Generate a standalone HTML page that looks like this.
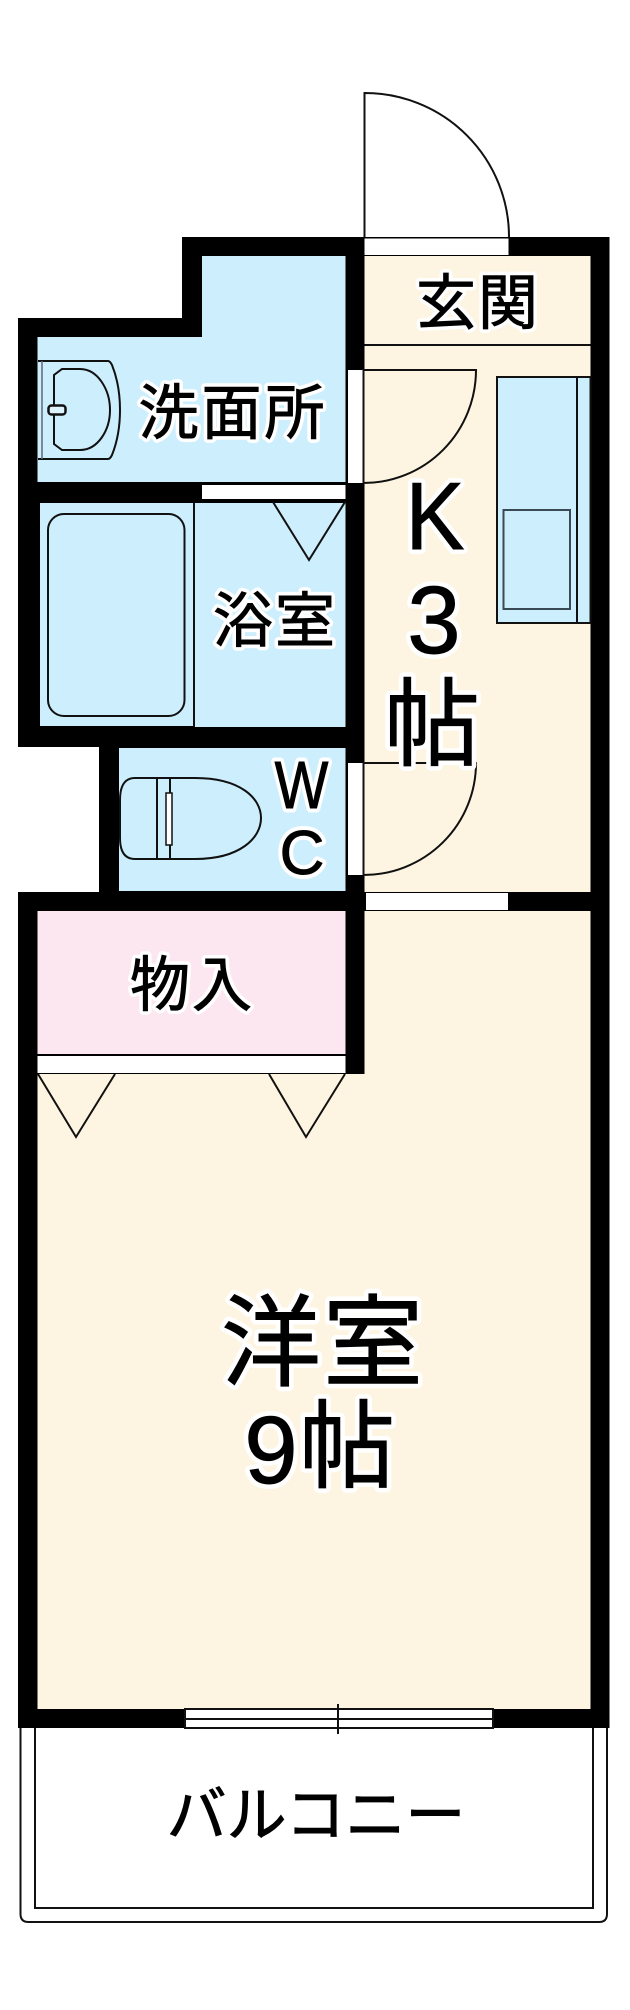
<!DOCTYPE html>
<html><head><meta charset="utf-8"><style>
html,body{margin:0;padding:0;background:#fff;width:630px;height:2010px;overflow:hidden}
svg{display:block}
text{font-family:"Liberation Sans","Noto Sans CJK JP",sans-serif;text-anchor:middle}
.h text{fill:#fff;stroke:#fff;stroke-linejoin:round}
.t text{fill:#000;stroke:#000;stroke-width:.9px}
.l{fill:none;stroke:#111;stroke-width:2}
</style></head><body>
<svg width="630" height="2010" viewBox="0 0 630 2010" xmlns="http://www.w3.org/2000/svg">
<rect width="630" height="2010" fill="#fff"/>
<!-- walls -->
<path d="M182 237H609.500V1728H18V892H99V747H18V318H182Z" fill="#000"/>
<!-- rooms -->
<path d="M202 256H345.500V482H37.500V337H202Z" fill="#cdeefc"/>
<rect x="364.500" y="256" width="226" height="636" fill="#fdf5e2"/>
<rect x="40" y="503" width="153" height="223" fill="#cdeefc"/>
<rect x="195" y="503" width="150.500" height="224" fill="#cdeefc"/>
<rect x="119" y="748" width="226.500" height="143" fill="#cdeefc"/>
<rect x="37.500" y="911" width="308" height="143" fill="#fce6ef"/>
<path d="M364.500 911H590.500V1709H37.500V1074H364.500Z" fill="#fdf5e2"/>
<!-- openings -->
<rect x="364.500" y="238.500" width="144" height="16.500" fill="#fff"/>
<rect x="348" y="370" width="15" height="113" fill="#fff"/>
<rect x="202" y="485" width="143.500" height="14" fill="#fff"/>
<rect x="348" y="763" width="15" height="112" fill="#fff"/>
<rect x="366" y="893" width="142" height="17" fill="#fff"/>
<rect x="37.500" y="1056" width="308" height="17" fill="#fff"/>
<!-- balcony -->
<path class="l" d="M20.500 1728V1914Q20.500 1922 28.500 1922H599Q607 1922 607 1914V1728" stroke="#333"/>
<path class="l" d="M35 1728V1908H593V1728" stroke="#333"/>
<!-- entry door -->
<path class="l" d="M364.500 237V93A144.500 144 0 0 1 509 237"/>
<line class="l" x1="364.500" y1="345" x2="590.500" y2="345"/>
<!-- inner doors -->
<path class="l" d="M363.500 483V370H476A112.500 113 0 0 1 363.500 483Z"/>
<path class="l" d="M363.500 875V763H476A112.500 112 0 0 1 363.500 875Z"/>
<!-- kitchen counter -->
<rect x="497" y="377" width="93.500" height="246" fill="#cdeefc" stroke="#111" stroke-width="2"/>
<line class="l" x1="577" y1="377" x2="577" y2="623"/>
<rect x="503.500" y="510" width="66.500" height="99" fill="none" stroke="#3a4a55" stroke-width="2"/>
<!-- sink -->
<path class="l" d="M38 361H108Q110 361 112 365Q120 385 120 410Q120 435 112 455Q110 459 108 459H38" stroke-width="2"/>
<line x1="42" y1="361" x2="42" y2="459" stroke="#667" stroke-width="1.500"/>
<path class="l" d="M62 369H80C98 369 110 390 110 410C110 430 98 450 80 450H62L54 444V375Z" stroke-width="2.500"/>
<rect x="48.500" y="405.500" width="17" height="9" rx="3" fill="#dff3fc" stroke="#111" stroke-width="2.500"/>
<!-- tub -->
<rect class="l" x="48" y="514" width="136.500" height="202" rx="16"/>
<line class="l" x1="194" y1="503" x2="194" y2="727"/>
<!-- door swings -->
<path class="l" d="M273 502L309 560L345 502"/>
<path class="l" d="M38 1074L76 1137L115 1074"/>
<path class="l" d="M269 1074L306 1137L345 1074"/>
<!-- toilet -->
<path class="l" d="M157 778H135Q120 778 120 800V838Q120 859 135 859H157Z" stroke-width="2.500"/>
<path class="l" d="M157 778H195C240 778 261 798 261 818C261 838 240 859 195 859H157" stroke-width="2.500"/>
<line class="l" x1="170" y1="778" x2="170" y2="859" stroke-width="2.500"/>
<rect x="166" y="793" width="6" height="52" fill="#fff" stroke="#111" stroke-width="1.500"/>
<!-- window -->
<rect x="185" y="1709" width="308" height="19" fill="#fff" stroke="#111" stroke-width="2"/>
<line class="l" x1="185" y1="1719" x2="493" y2="1719"/>
<line class="l" x1="338" y1="1704" x2="338" y2="1734"/>
<!-- halo -->
<g class="h">
<text x="478" y="324" font-size="60" letter-spacing="2" stroke-width="8">玄関</text>
<text x="233" y="434" font-size="60" letter-spacing="3" stroke-width="8">洗面所</text>
<text x="275" y="642" font-size="60" letter-spacing="2" stroke-width="8">浴室</text>
<text x="192" y="1006" font-size="60" letter-spacing="2" stroke-width="8">物入</text>
<text transform="translate(435 549) scale(.92 1)" x="0" y="0" font-size="96" stroke-width="10">K</text>
<text x="434" y="653" font-size="96" stroke-width="10">3</text>
<text x="432" y="758" font-size="96" stroke-width="10">帖</text>
<text transform="translate(301.500 808) scale(.85 1)" x="0" y="0" font-size="67" stroke-width="9">W</text>
<text x="302" y="874" font-size="62" stroke-width="9">C</text>
<text x="323" y="1378" font-size="100" letter-spacing="2" stroke-width="10">洋室</text>
<text x="271" y="1483" font-size="96" stroke-width="10">9</text>
<text x="347" y="1480" font-size="96" stroke-width="10">帖</text>
</g>
<!-- text -->
<g class="t">
<text x="478" y="324" font-size="60" letter-spacing="2">玄関</text>
<text x="233" y="434" font-size="60" letter-spacing="3">洗面所</text>
<text x="275" y="642" font-size="60" letter-spacing="2">浴室</text>
<text x="192" y="1006" font-size="60" letter-spacing="2">物入</text>
<text transform="translate(435 549) scale(.92 1)" x="0" y="0" font-size="96">K</text>
<text x="434" y="653" font-size="96">3</text>
<text x="432" y="758" font-size="96">帖</text>
<text transform="translate(301.500 808) scale(.85 1)" x="0" y="0" font-size="67">W</text>
<text x="302" y="874" font-size="62">C</text>
<text x="323" y="1378" font-size="100" letter-spacing="2">洋室</text>
<text x="271" y="1483" font-size="96">9</text>
<text x="347" y="1480" font-size="96">帖</text>
<text x="316" y="1836" font-size="60">バルコニー</text>
</g>
</svg>
</body></html>
